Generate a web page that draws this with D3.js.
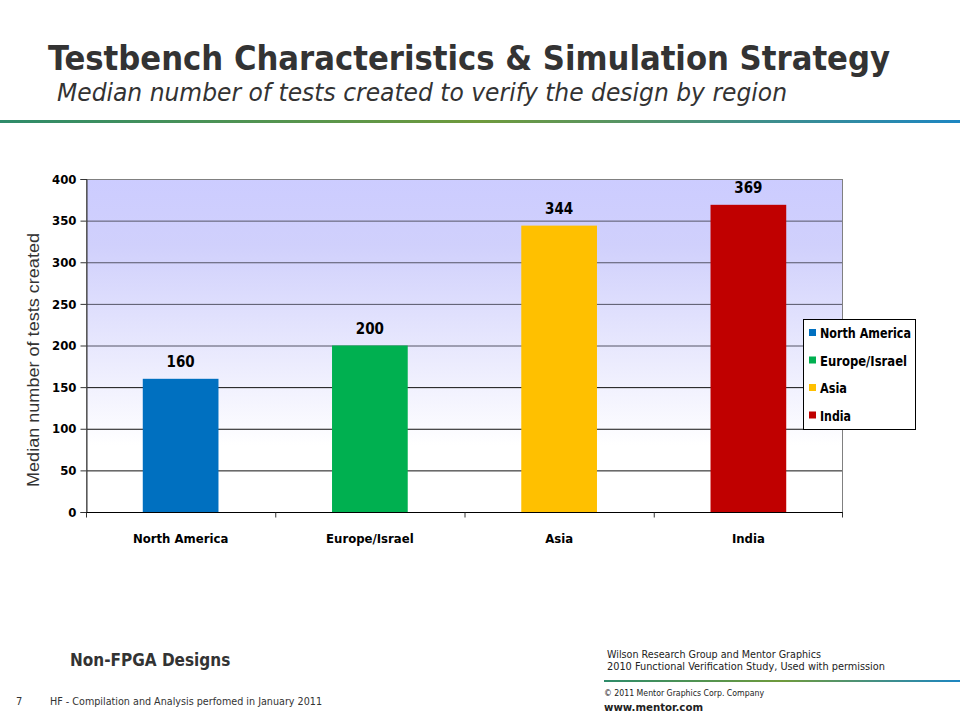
<!DOCTYPE html>
<html>
<head>
<meta charset="utf-8">
<script src="https://cdn.jsdelivr.net/npm/d3@7"></script>
<style>
  body { margin: 0; background: #fff; }
  svg { display: block; }
</style>
</head>
<body>
<svg id="chart" width="960" height="720"></svg>
<script>
// chart data
const regions = ['North America', 'Europe/Israel', 'Asia', 'India'];
const medianTests = [160, 200, 344, 369];
const barColors = ['#0070c0', '#00b050', '#ffc000', '#c00000'];
const yTicks = [0, 50, 100, 150, 200, 250, 300, 350, 400];

const svg = d3.select('#chart');
const narrow = '"Liberation Sans Narrow", "Arial Narrow", "DejaVu Sans Condensed", sans-serif';
const plot = { left: 86, right: 843, top: 179, bottom: 512 };

// header
svg.append('text')
    .attr('x', 48).attr('y', 70)
    .attr('textLength', 842).attr('lengthAdjust', 'spacingAndGlyphs')
    .style('font-family', '"DejaVu Sans Condensed", "DejaVu Sans", sans-serif')
    .style('font-weight', 'bold').style('font-size', '33px').style('fill', '#333333')
    .text('Testbench Characteristics & Simulation Strategy');

svg.append('text')
    .attr('x', 57).attr('y', 101)
    .attr('textLength', 730).attr('lengthAdjust', 'spacingAndGlyphs')
    .style('font-family', '"DejaVu Sans Condensed", "DejaVu Sans", sans-serif')
    .style('font-style', 'italic').style('font-size', '25px').style('fill', '#333333')
    .text('Median number of tests created to verify the design by region');

const defs = svg.append('defs');
const rule = defs.append('linearGradient').attr('id', 'rule');
rule.append('stop').attr('offset', '0%').attr('stop-color', '#2e8b6a');
rule.append('stop').attr('offset', '50%').attr('stop-color', '#6f9a3c');
rule.append('stop').attr('offset', '100%').attr('stop-color', '#1d86c2');

svg.append('rect').attr('x', 0).attr('y', 120).attr('width', 960).attr('height', 3)
    .attr('fill', 'url(#rule)');

// plot background
const bg = defs.append('linearGradient').attr('id', 'plotBg')
    .attr('x1', 0).attr('y1', 0).attr('x2', 0).attr('y2', 1);
bg.append('stop').attr('offset', '0%').attr('stop-color', '#ccccff');
bg.append('stop').attr('offset', '20%').attr('stop-color', '#d0d0fc');
bg.append('stop').attr('offset', '80%').attr('stop-color', '#ffffff');
bg.append('stop').attr('offset', '100%').attr('stop-color', '#ffffff');

const x = d3.scaleBand().domain(regions).range([plot.left, plot.right]).paddingInner(0).paddingOuter(0);
const y = d3.scaleLinear().domain([0, 400]).range([plot.bottom, plot.top]);

svg.append('rect')
    .attr('x', plot.left).attr('y', plot.top)
    .attr('width', plot.right - plot.left).attr('height', plot.bottom - plot.top)
    .attr('fill', 'url(#plotBg)');

// grid lines
svg.append('g').selectAll('line')
    .data(yTicks.filter(d => d > 0 && d < 400))
    .join('line')
    .attr('x1', plot.left).attr('x2', plot.right)
    .attr('y1', d => y(d) + 0.5).attr('y2', d => y(d) + 0.5)
    .attr('stroke', d => d >= 200 ? '#555566' : '#111111').attr('stroke-width', 1);

// plot border
svg.append('rect')
    .attr('x', plot.left + 0.5).attr('y', plot.top + 0.5)
    .attr('width', plot.right - plot.left - 1).attr('height', plot.bottom - plot.top)
    .attr('fill', 'none').attr('stroke', '#808080').attr('stroke-width', 1);

// bars
const barW = x.bandwidth() * 0.4;
svg.append('g').selectAll('rect')
    .data(medianTests)
    .join('rect')
    .attr('x', (d, i) => x(regions[i]) + (x.bandwidth() - barW) / 2)
    .attr('y', d => y(d))
    .attr('width', barW)
    .attr('height', d => y(0) - y(d))
    .attr('fill', (d, i) => barColors[i]);

// value labels
svg.append('g').selectAll('text')
    .data(medianTests)
    .join('text')
    .attr('x', (d, i) => x(regions[i]) + x.bandwidth() / 2)
    .attr('y', d => y(d) - 12)
    .attr('text-anchor', 'middle')
    .style('font-family', narrow).style('font-weight', 'bold').style('font-size', '15px')
    .text(d => d);

// y axis
const yAxis = d3.axisLeft(y).tickValues(yTicks).tickSize(6).tickPadding(4);
const yg = svg.append('g').attr('transform', `translate(${plot.left + 0.5},0)`).call(yAxis);
yg.select('.domain').attr('stroke', '#333');
yg.selectAll('.tick line').attr('stroke', '#333');
yg.selectAll('.tick text')
    .style('font-family', narrow).style('font-weight', 'bold').style('font-size', '13px')
    .attr('fill', '#000');

// x axis
const xg = svg.append('g').attr('transform', `translate(0,${plot.bottom + 0.5})`);
xg.append('line').attr('x1', plot.left).attr('x2', plot.right)
    .attr('stroke', '#000');
xg.selectAll('line.tk')
    .data(d3.range(regions.length + 1))
    .join('line').attr('class', 'tk')
    .attr('x1', i => plot.left + 0.5 + i * x.bandwidth() - (i === regions.length ? 1 : 0))
    .attr('x2', i => plot.left + 0.5 + i * x.bandwidth() - (i === regions.length ? 1 : 0))
    .attr('y1', 0).attr('y2', 5).attr('stroke', '#333');
xg.selectAll('text')
    .data(regions)
    .join('text')
    .attr('x', d => x(d) + x.bandwidth() / 2)
    .attr('y', 30)
    .attr('text-anchor', 'middle')
    .style('font-family', narrow).style('font-weight', 'bold').style('font-size', '13px')
    .text(d => d);

// y axis title
svg.append('text')
    .attr('transform', 'translate(39,360) rotate(-90)')
    .attr('text-anchor', 'middle')
    .attr('textLength', 254).attr('lengthAdjust', 'spacingAndGlyphs')
    .style('font-family', '"Liberation Sans", Arial, sans-serif').style('font-size', '17px')
    .style('fill', '#333')
    .text('Median number of tests created');

// legend
const legendW = [91, 87, 27, 31];
const lg = svg.append('g').attr('transform', 'translate(803,319)');
lg.append('rect').attr('x', 0.5).attr('y', 0.5).attr('width', 112).attr('height', 110)
    .attr('fill', '#fff').attr('stroke', '#000');
const items = lg.selectAll('g.item').data(regions).join('g').attr('class', 'item')
    .attr('transform', (d, i) => `translate(6,${14 + i * 27.5})`);
items.append('rect').attr('x', 0).attr('y', -4).attr('width', 7).attr('height', 7)
    .attr('fill', (d, i) => barColors[i]);
items.append('text').attr('x', 11).attr('y', 5)
    .attr('textLength', (d, i) => legendW[i]).attr('lengthAdjust', 'spacingAndGlyphs')
    .style('font-family', narrow).style('font-weight', 'bold').style('font-size', '14px')
    .text(d => d);

// footer
svg.append('text').attr('x', 70).attr('y', 666)
    .style('font-family', '"DejaVu Sans Condensed", sans-serif').style('font-weight', 'bold')
    .style('font-size', '17px').style('fill', '#333')
    .text('Non-FPGA Designs');

const smallFont = '"DejaVu Sans Condensed", "Liberation Sans Narrow", sans-serif';
svg.append('text').attr('x', 607).attr('y', 658)
    .attr('textLength', 214).attr('lengthAdjust', 'spacingAndGlyphs')
    .style('font-family', smallFont).style('font-size', '10px').style('fill', '#222')
    .text('Wilson Research Group and Mentor Graphics');
svg.append('text').attr('x', 607).attr('y', 670)
    .attr('textLength', 278).attr('lengthAdjust', 'spacingAndGlyphs')
    .style('font-family', smallFont).style('font-size', '10px').style('fill', '#222')
    .text('2010 Functional Verification Study,  Used with permission');

svg.append('rect').attr('x', 604).attr('y', 680).attr('width', 356).attr('height', 2)
    .attr('fill', 'url(#rule)');

svg.append('text').attr('x', 604).attr('y', 696)
    .attr('textLength', 160).attr('lengthAdjust', 'spacingAndGlyphs')
    .style('font-family', smallFont).style('font-size', '9px').style('fill', '#222')
    .text('© 2011 Mentor Graphics Corp. Company');
svg.append('text').attr('x', 604).attr('y', 711)
    .attr('textLength', 99).attr('lengthAdjust', 'spacingAndGlyphs')
    .style('font-family', smallFont).style('font-weight', 'bold').style('font-size', '11px').style('fill', '#222')
    .text('www.mentor.com');

svg.append('text').attr('x', 16).attr('y', 705)
    .style('font-family', smallFont).style('font-size', '11px').style('fill', '#333')
    .text('7');
svg.append('text').attr('x', 50).attr('y', 705)
    .attr('textLength', 272).attr('lengthAdjust', 'spacingAndGlyphs')
    .style('font-family', smallFont).style('font-size', '11px').style('fill', '#333')
    .text('HF - Compilation and Analysis perfomed in January 2011');
</script>
</body>
</html>
